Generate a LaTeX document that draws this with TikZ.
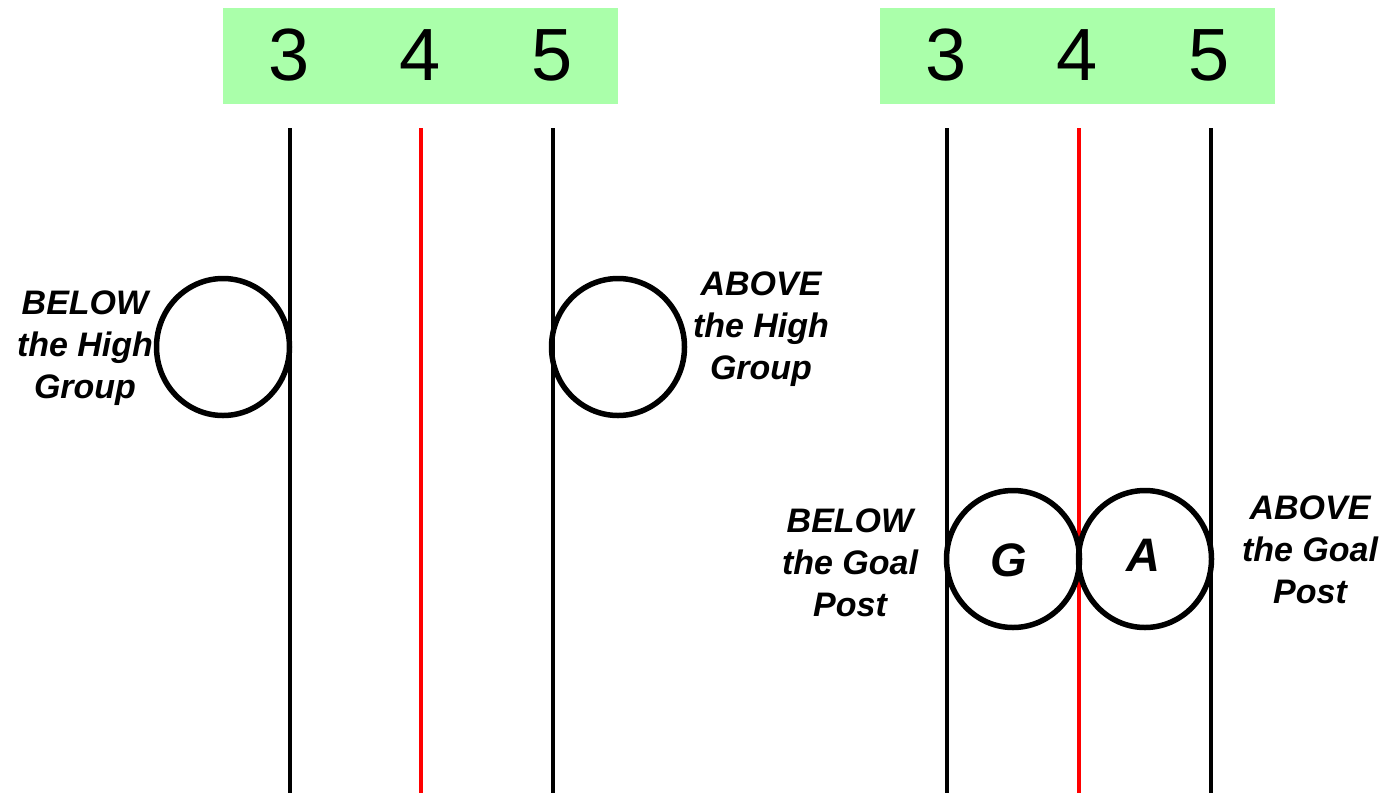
\documentclass[tikz,border=0pt]{standalone}
\usepackage{fontspec}
\setmainfont{Liberation Sans}
\usetikzlibrary{shapes.geometric}
\definecolor{boxgreen}{HTML}{AAFFAA}
\definecolor{postred}{HTML}{FF0000}
\tikzset{
  numbox/.style={fill=boxgreen, draw=none, minimum width=395pt, minimum height=96pt, inner sep=0, anchor=north west},
  digit/.style={font=\fontsize{74}{80}\selectfont, anchor=base, inner sep=0},
  post/.style={line width=4.5pt, black},
  goalpost/.style={line width=4.5pt, postred},
  ball/.style={ellipse, draw, line width=5.5pt, minimum width=133pt, minimum height=137pt, inner sep=0},
  lbl/.style={font=\fontsize{34}{42}\selectfont\bfseries\itshape, align=center, anchor=north, inner sep=0},
  letter/.style={font=\fontsize{47}{50}\selectfont\bfseries\itshape, anchor=base, inner sep=0}
}
\begin{document}
\begin{tikzpicture}[x=1pt,y=-1pt]
\useasboundingbox (0,0) rectangle (1397,793);
% left group
\node[numbox] (boxL) at (223,8) {};
\node[digit] (l3) at (289,80) {3};
\node[digit] (l4) at (420,80) {4};
\node[digit] (l5) at (552,80) {5};
\coordinate (l3t) at (290,128); \coordinate (l3b) at (290,793);
\coordinate (l4t) at (421,128); \coordinate (l4b) at (421,793);
\coordinate (l5t) at (553,128); \coordinate (l5b) at (553,793);
\draw[post] (l3t) -- (l3b);
\draw[goalpost] (l4t) -- (l4b);
\draw[post] (l5t) -- (l5b);
\node[ball] (cL) at (223,347) {};
\node[ball] (cR) at (618,347) {};
\node[lbl] (belowH) at (85,291) {BELOW\\the High\\Group};
\node[lbl] (aboveH) at (761,272) {ABOVE\\the High\\Group};
% right group
\node[numbox] (boxR) at (880,8) {};
\node[digit] (r3) at (946,80) {3};
\node[digit] (r4) at (1077,80) {4};
\node[digit] (r5) at (1209,80) {5};
\coordinate (r3t) at (947,128); \coordinate (r3b) at (947,793);
\coordinate (r4t) at (1079,128); \coordinate (r4b) at (1079,793);
\coordinate (r5t) at (1211,128); \coordinate (r5b) at (1211,793);
\draw[post] (r3t) -- (r3b);
\draw[goalpost] (r4t) -- (r4b);
\draw[post] (r5t) -- (r5b);
\node[ball] (cG) at (1013,559) {};
\node[ball] (cA) at (1145,559) {};
\node[letter] at (1009,576) {G};
\node[letter] at (1143,571) {A};
\node[lbl] (belowG) at (850,509) {BELOW\\the Goal\\Post};
\node[lbl] (aboveG) at (1310,496) {ABOVE\\the Goal\\Post};
\end{tikzpicture}
\end{document}
